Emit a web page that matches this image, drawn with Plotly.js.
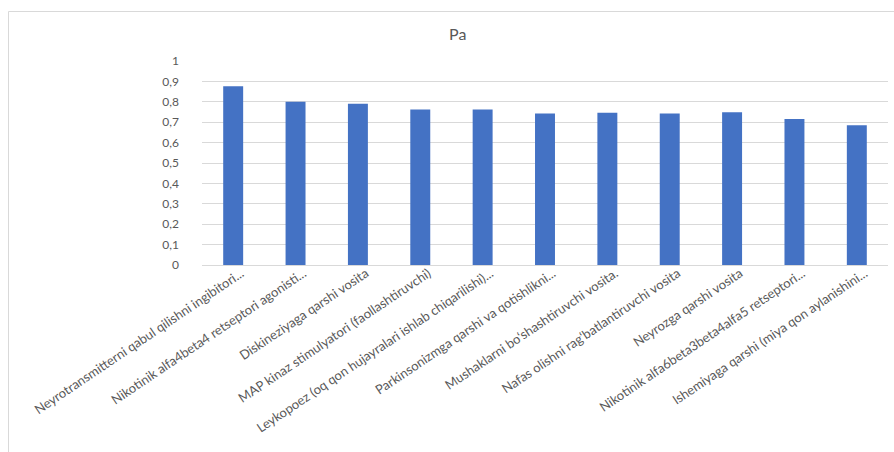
<!DOCTYPE html>
<html>
<head>
<meta charset="utf-8">
<script src="https://cdn.plot.ly/plotly-3.0.1.min.js"></script>
<style>
  html, body { margin: 0; padding: 0; background: #ffffff; }
  #chart { width: 894px; height: 452px; }
</style>
</head>
<body>
<div id="chart"></div>
<script>
const categories = [
  "Neyrotransmitterni qabul qilishni ingibitori...",
  "Nikotinik alfa4beta4 retseptori agonisti...",
  "Diskineziyaga qarshi vosita",
  "MAP kinaz stimulyatori (faollashtiruvchi)",
  "Leykopoez (oq qon hujayralari ishlab chiqarilishi)...",
  "Parkinsonizmga qarshi va qotishlikni...",
  "Mushaklarni bo\u2018shashtiruvchi vosita.",
  "Nafas olishni rag\u2018batlantiruvchi vosita",
  "Neyrozga qarshi vosita",
  "Nikotinik alfa6beta3beta4alfa5 retseptori...",
  "Ishemiyaga qarshi (miya qon aylanishini..."
];
const paValues = [0.876, 0.800, 0.790, 0.762, 0.762, 0.743, 0.747, 0.743, 0.749, 0.716, 0.685];
const yTickValues = [0, 0.1, 0.2, 0.3, 0.4, 0.5, 0.6, 0.7, 0.8, 0.9, 1];
const yTickLabels = ["0", "0,1", "0,2", "0,3", "0,4", "0,5", "0,6", "0,7", "0,8", "0,9", "1"];
const chartTitle = "Pa";

const FONT = "Lato, 'Open Sans', sans-serif";
const GREY = "#595959";

const trace = {
  type: "bar",
  x: categories,
  y: paValues,
  marker: { color: "#4472C4" },
  hoverinfo: "x+y"
};

const layout = {
  width: 894,
  height: 452,
  margin: { l: 202, r: 6, t: 61, b: 187 },
  paper_bgcolor: "#ffffff",
  plot_bgcolor: "#ffffff",
  showlegend: false,
  bargap: 0.68,
  font: { family: FONT, color: GREY },
  title: {
    text: chartTitle,
    font: { family: FONT, size: 16, color: GREY },
    x: 0.512, xref: "container", xanchor: "center",
    y: 0.923, yref: "container", yanchor: "middle"
  },
  xaxis: {
    type: "category",
    tickangle: -34,
    tickfont: { family: FONT, size: 13, color: GREY },
    showgrid: false,
    showline: true,
    linecolor: "#d9d9d9",
    linewidth: 1,
    ticks: "",
    ticklabelshift: 8,
    ticklabelstandoff: -5,
    automargin: false
  },
  yaxis: {
    range: [0, 1.0001],
    tickvals: yTickValues,
    ticktext: yTickLabels,
    tickfont: { family: FONT, size: 12, color: GREY },
    showgrid: true,
    gridcolor: "#d9d9d9",
    gridwidth: 1,
    zeroline: false,
    showline: false,
    ticks: "",
    ticklabelstandoff: 22,
    automargin: false
  },
  shapes: [
    {
      type: "rect", xref: "paper", yref: "paper",
      x0: (8.5 - 202) / 686, x1: 1.1,
      y0: -1.2, y1: (265 - 11.5) / 204,
      line: { color: "#d9d9d9", width: 1 },
      fillcolor: "rgba(0,0,0,0)",
      layer: "below"
    }
  ]
};

Plotly.newPlot("chart", [trace], layout, { displayModeBar: false, staticPlot: true });
</script>
</body>
</html>
